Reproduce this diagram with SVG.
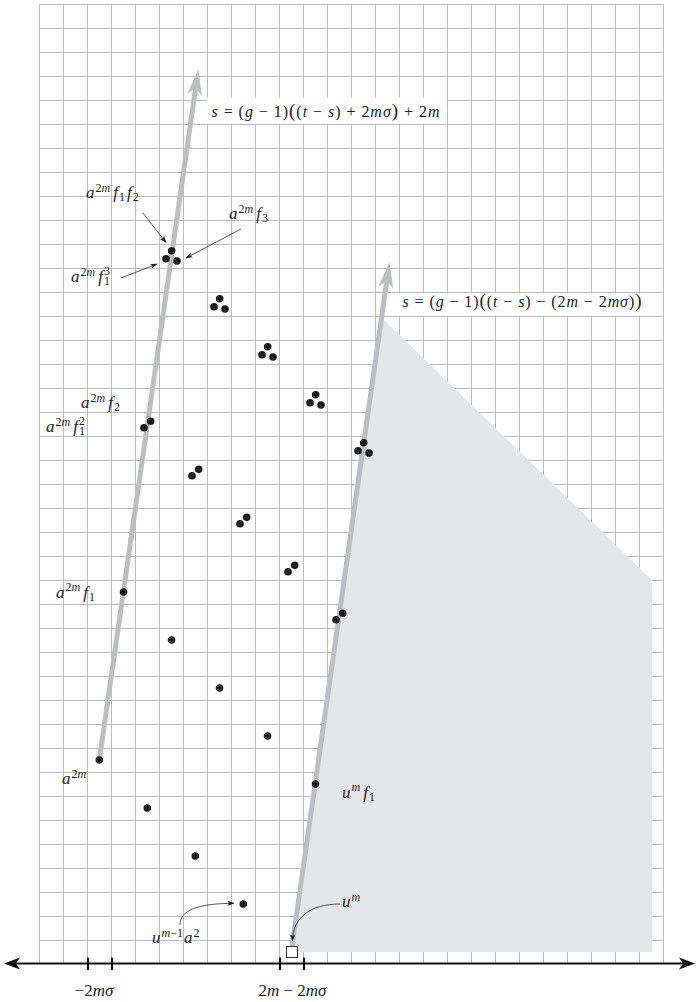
<svg xmlns="http://www.w3.org/2000/svg" width="696" height="1002" viewBox="0 0 696 1002">
<style>
.grid{stroke:#b9babd;stroke-width:1;fill:none}
.shade{fill:#e5e6e8}
.gl{stroke:#bdbec2;stroke-width:5;fill:none}
.pt{fill:#1c1c1c}
.ar{stroke:#2a2a2a;stroke-width:0.8;fill:none}
.ax{stroke:#111;stroke-width:2;fill:none}
.t{font-family:'Liberation Serif','DejaVu Serif',serif;font-size:17px;fill:#222}
.eq{font-family:'Liberation Serif','DejaVu Serif',serif;font-size:16px;fill:#222}
.i{font-style:italic}
.s{font-size:12px}
.bp{font-size:19px}
</style>
<defs>
<marker id="ga" viewBox="-8 -8 28 16" refX="0" refY="0" markerWidth="28" markerHeight="16" markerUnits="userSpaceOnUse" orient="auto"><path d="M19,0 L-7,-7.5 L0,0 L-7,7.5 Z" fill="#bdbec2"/></marker>
<marker id="ba" viewBox="-8 -4 9 8" refX="0" refY="0" markerWidth="9" markerHeight="8" markerUnits="userSpaceOnUse" orient="auto"><path d="M0.5,0 L-6.5,-2.6 L-5,0 L-6.5,2.6 Z" fill="#222"/></marker>
</defs>
<rect x="0" y="0" width="696" height="1002" fill="#fff"/>
<g id="grid">
<path class="grid" d="M39.5,4.5V964M63.5,4.5V964M87.5,4.5V964M111.5,4.5V964M135.5,4.5V964M159.5,4.5V964M183.5,4.5V964M207.5,4.5V964M231.5,4.5V964M255.5,4.5V964M279.5,4.5V964M303.5,4.5V964M327.5,4.5V964M351.5,4.5V964M375.5,4.5V964M399.5,4.5V964M423.5,4.5V964M447.5,4.5V964M471.5,4.5V964M495.5,4.5V964M519.5,4.5V964M543.5,4.5V964M567.5,4.5V964M591.5,4.5V964M615.5,4.5V964M639.5,4.5V964M663.5,4.5V964"/>
<path class="grid" d="M39.5,4.5H663.5M39.5,28.5H663.5M39.5,52.5H663.5M39.5,76.5H663.5M39.5,100.5H663.5M39.5,124.5H663.5M39.5,148.5H663.5M39.5,172.5H663.5M39.5,196.5H663.5M39.5,220.5H663.5M39.5,244.5H663.5M39.5,268.5H663.5M39.5,292.5H663.5M39.5,316.5H663.5M39.5,340.5H663.5M39.5,364.5H663.5M39.5,388.5H663.5M39.5,412.5H663.5M39.5,436.5H663.5M39.5,460.5H663.5M39.5,484.5H663.5M39.5,508.5H663.5M39.5,532.5H663.5M39.5,556.5H663.5M39.5,580.5H663.5M39.5,604.5H663.5M39.5,628.5H663.5M39.5,652.5H663.5M39.5,676.5H663.5M39.5,700.5H663.5M39.5,724.5H663.5M39.5,748.5H663.5M39.5,772.5H663.5M39.5,796.5H663.5M39.5,820.5H663.5M39.5,844.5H663.5M39.5,868.5H663.5M39.5,892.5H663.5M39.5,916.5H663.5M39.5,940.5H663.5"/>
</g>
<g id="region">
<polygon class="shade" points="291,952 383,319 652,580 652,952"/>
</g>
<g id="eq-boxes">
<rect x="207" y="97.5" width="240" height="26.5" fill="#fff"/>
<rect x="399" y="293.5" width="244" height="22.5" fill="#fff"/>
</g>
<g id="connectors">
<line class="gl" x1="99.3" y1="760" x2="195.6" y2="88.1" marker-end="url(#ga)"/>
<line class="gl" x1="291.5" y1="950" x2="386.8" y2="280.8" marker-end="url(#ga)"/>
<line class="ar" x1="143" y1="213" x2="166" y2="242.5" marker-end="url(#ba)"/>
<line class="ar" x1="241" y1="229" x2="186" y2="258" marker-end="url(#ba)"/>
<line class="ar" x1="121" y1="278" x2="157" y2="264" marker-end="url(#ba)"/>
<path class="ar" d="M180,925 C180,910 198,903.5 234,903.3" marker-end="url(#ba)"/>
<path class="ar" d="M340,904 C310,904 292.5,918 292.5,941" marker-end="url(#ba)"/>
</g>
<g id="points">
<circle class="pt" cx="99.3" cy="760" r="3.8"/>
<circle class="pt" cx="147.3" cy="808" r="3.8"/>
<circle class="pt" cx="195.3" cy="856" r="3.8"/>
<circle class="pt" cx="243.3" cy="904" r="3.8"/>
<circle class="pt" cx="123.5" cy="592" r="3.8"/>
<circle class="pt" cx="171.5" cy="640" r="3.8"/>
<circle class="pt" cx="219.5" cy="688" r="3.8"/>
<circle class="pt" cx="267.5" cy="736" r="3.8"/>
<circle class="pt" cx="315.5" cy="784" r="3.8"/>
<circle class="pt" cx="144" cy="427.7" r="3.8"/>
<circle class="pt" cx="150.7" cy="421.3" r="3.8"/>
<circle class="pt" cx="192" cy="475.7" r="3.8"/>
<circle class="pt" cx="198.7" cy="469.3" r="3.8"/>
<circle class="pt" cx="240" cy="523.7" r="3.8"/>
<circle class="pt" cx="246.7" cy="517.3" r="3.8"/>
<circle class="pt" cx="288" cy="571.7" r="3.8"/>
<circle class="pt" cx="294.7" cy="565.3" r="3.8"/>
<circle class="pt" cx="336" cy="619.7" r="3.8"/>
<circle class="pt" cx="342.7" cy="613.3" r="3.8"/>
<circle class="pt" cx="171.7" cy="250.7" r="3.8"/>
<circle class="pt" cx="166" cy="258.7" r="3.8"/>
<circle class="pt" cx="177" cy="261" r="3.8"/>
<circle class="pt" cx="219.7" cy="298.7" r="3.8"/>
<circle class="pt" cx="214" cy="306.7" r="3.8"/>
<circle class="pt" cx="225" cy="309" r="3.8"/>
<circle class="pt" cx="267.7" cy="346.7" r="3.8"/>
<circle class="pt" cx="262" cy="354.7" r="3.8"/>
<circle class="pt" cx="273" cy="357" r="3.8"/>
<circle class="pt" cx="315.7" cy="394.7" r="3.8"/>
<circle class="pt" cx="310" cy="402.7" r="3.8"/>
<circle class="pt" cx="321" cy="405" r="3.8"/>
<circle class="pt" cx="363.7" cy="442.7" r="3.8"/>
<circle class="pt" cx="358" cy="450.7" r="3.8"/>
<circle class="pt" cx="369" cy="453" r="3.8"/>
<rect x="286.5" y="946.5" width="11" height="11" fill="#fff" stroke="#333" stroke-width="1"/>
</g>
<g id="axis">
<line class="ax" x1="14" y1="963.5" x2="686" y2="963.5"/>
<path d="M4,963.5 L20,957.5 L16,963.5 L20,969.5 Z" fill="#111"/>
<path d="M695,963.5 L679,957.5 L683,963.5 L679,969.5 Z" fill="#111"/>
<path class="ax" d="M88,957.5V970M112,957.5V970M280,957.5V970M304,957.5V970"/>
<text class="t" x="94" y="996" text-anchor="middle">−2<tspan class="i">mσ</tspan></text>
<text class="t" x="292.5" y="996" text-anchor="middle">2<tspan class="i">m</tspan> − 2<tspan class="i">mσ</tspan></text>
</g>
<g id="equations">
<text class="eq" x="211.5" y="116.5" textLength="228" lengthAdjust="spacing"><tspan class="i">s</tspan> = (<tspan class="i">g</tspan> − 1)<tspan class="bp">(</tspan>(<tspan class="i">t</tspan> − <tspan class="i">s</tspan>) + 2<tspan class="i">mσ</tspan><tspan class="bp">)</tspan> + 2<tspan class="i">m</tspan></text>
<text class="eq" x="402.5" y="307" textLength="239" lengthAdjust="spacing"><tspan class="i">s</tspan> = (<tspan class="i">g</tspan> − 1)<tspan class="bp">(</tspan>(<tspan class="i">t</tspan> − <tspan class="i">s</tspan>) − (2<tspan class="i">m</tspan> − 2<tspan class="i">mσ</tspan>)<tspan class="bp">)</tspan></text>
</g>
<g id="labels">
<text class="t" x="86" y="198"><tspan class="i">a</tspan><tspan class="s" dx="1" dy="-6.5">2</tspan><tspan class="s i">m</tspan><tspan class="i" dx="3" dy="6.5">f</tspan><tspan class="s" dx="1" dy="3">1</tspan><tspan class="i" dx="2" dy="-3">f</tspan><tspan class="s" dx="1" dy="3">2</tspan></text>
<text class="t" x="229" y="219"><tspan class="i">a</tspan><tspan class="s" dx="1" dy="-6.5">2</tspan><tspan class="s i">m</tspan><tspan class="i" dx="3" dy="6.5">f</tspan><tspan class="s" dx="1" dy="3">3</tspan></text>
<text class="t" x="71" y="282"><tspan class="i">a</tspan><tspan class="s" dx="1" dy="-6.5">2</tspan><tspan class="s i">m</tspan><tspan class="i" dx="3" dy="6.5">f</tspan><tspan class="s" dx="1" dy="3">1</tspan><tspan class="s" dx="-6" dy="-10.5">3</tspan></text>
<text class="t" x="81" y="408"><tspan class="i">a</tspan><tspan class="s" dx="1" dy="-6.5">2</tspan><tspan class="s i">m</tspan><tspan class="i" dx="3" dy="6.5">f</tspan><tspan class="s" dx="1" dy="3">2</tspan></text>
<text class="t" x="46" y="432"><tspan class="i">a</tspan><tspan class="s" dx="1" dy="-6.5">2</tspan><tspan class="s i">m</tspan><tspan class="i" dx="3" dy="6.5">f</tspan><tspan class="s" dx="1" dy="3">1</tspan><tspan class="s" dx="-6" dy="-10.5">2</tspan></text>
<text class="t" x="56" y="597.5"><tspan class="i">a</tspan><tspan class="s" dx="1" dy="-6.5">2</tspan><tspan class="s i">m</tspan><tspan class="i" dx="3" dy="6.5">f</tspan><tspan class="s" dx="1" dy="3">1</tspan></text>
<text class="t" x="62" y="784"><tspan class="i">a</tspan><tspan class="s" dx="1" dy="-6.5">2</tspan><tspan class="s i">m</tspan></text>
<text class="t" x="342" y="797.5"><tspan class="i">u</tspan><tspan class="s i" dx="1" dy="-6.5">m</tspan><tspan class="i" dx="3" dy="6.5">f</tspan><tspan class="s" dx="1" dy="3">1</tspan></text>
<text class="t" x="152" y="943"><tspan class="i">u</tspan><tspan class="s i" dx="1" dy="-6.5">m</tspan><tspan class="s">−1</tspan><tspan class="i" dx="1" dy="6.5">a</tspan><tspan class="s" dx="1" dy="-6.5">2</tspan></text>
<text class="t" x="342" y="907"><tspan class="i">u</tspan><tspan class="s i" dx="1" dy="-6.5">m</tspan></text>
</g>
</svg>
